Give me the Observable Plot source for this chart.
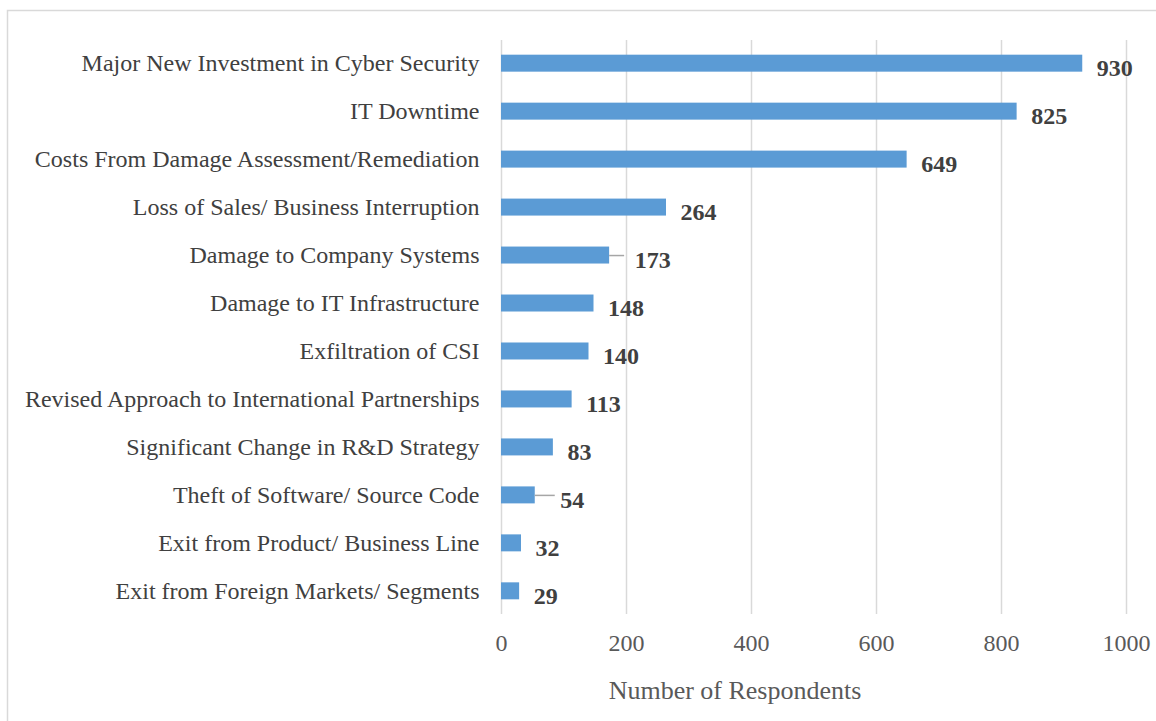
<!DOCTYPE html>
<html><head><meta charset="utf-8">
<script src="https://cdn.jsdelivr.net/npm/d3@7"></script>
<script src="https://cdn.jsdelivr.net/npm/@observablehq/plot@0.6"></script>
<style>body{margin:0;background:#fff}</style>
</head><body><div id="chart"></div>
<script>
const categories = [
  "Major New Investment in Cyber Security",
  "IT Downtime",
  "Costs From Damage Assessment/Remediation",
  "Loss of Sales/ Business Interruption",
  "Damage to Company Systems",
  "Damage to IT Infrastructure",
  "Exfiltration of CSI",
  "Revised Approach to International Partnerships",
  "Significant Change in R&D Strategy",
  "Theft of Software/ Source Code",
  "Exit from Product/ Business Line",
  "Exit from Foreign Markets/ Segments"
];
const values = [930, 825, 649, 264, 173, 148, 140, 113, 83, 54, 32, 29];
const leaderCategories = ["Damage to Company Systems", "Theft of Software/ Source Code"];
const xTicks = [0, 200, 400, 600, 800, 1000];
const xLabel = "Number of Respondents";

const data = categories.map((c, i) => ({category: c, value: values[i], leader: leaderCategories.includes(c)}));
const font = "'Liberation Serif','Times New Roman',serif";
const W = 1156, ML = 501, MR = 30;
const unitsPerPx = 1000 / (W - ML - MR);

const plot = Plot.plot({
  width: W, height: 721,
  marginLeft: ML, marginRight: MR, marginTop: 40, marginBottom: 107,
  style: {fontFamily: font, background: "#fff", overflow: "visible"},
  x: {domain: [0, 1000], ticks: xTicks, label: null},
  y: {domain: categories, paddingInner: 0.646, paddingOuter: 0.306, round: false, label: null},
  marks: [
    Plot.gridX(xTicks, {stroke: "#d9d9d9", strokeOpacity: 1, strokeWidth: 1.5}),
    Plot.axisX({ticks: xTicks, tickFormat: d => String(d), tickSize: 0, tickPadding: 19, fontSize: 24, fill: "#595959", label: null}),
    Plot.axisY({tickSize: 0, tickPadding: 22, fontSize: 24, fill: "#404040", label: null}),
    Plot.barX(data, {y: "category", x: "value", fill: "#5b9bd5"}),
    Plot.ruleY(data.filter(d => d.leader), {
      y: "category", x1: "value",
      x2: d => d.value + (d.value > 100 ? 15 : 20) * unitsPerPx,
      stroke: "#a6a6a6", strokeWidth: 1.5
    }),
    Plot.text(data.filter(d => !d.leader), {
      y: "category", x: "value", text: d => String(d.value),
      textAnchor: "start", dx: 14, dy: 5, fontSize: 24, fontWeight: "bold", fill: "#404040"
    }),
    Plot.text(data.filter(d => d.leader), {
      y: "category", x: "value", text: d => String(d.value),
      textAnchor: "start", dx: 25, dy: 5, fontSize: 24, fontWeight: "bold", fill: "#404040"
    })
  ]
});

const svg = d3.select(plot);
svg.append("text")
  .attr("x", 735).attr("y", 699)
  .attr("text-anchor", "middle")
  .attr("font-family", font).attr("font-size", 26)
  .attr("fill", "#595959")
  .text(xLabel);
svg.append("rect")
  .attr("x", 7.5).attr("y", 10.5).attr("width", 1300).attr("height", 900)
  .attr("fill", "none").attr("stroke", "#d9d9d9").attr("stroke-width", 1.5);
document.getElementById("chart").appendChild(plot);
</script>
</body></html>
